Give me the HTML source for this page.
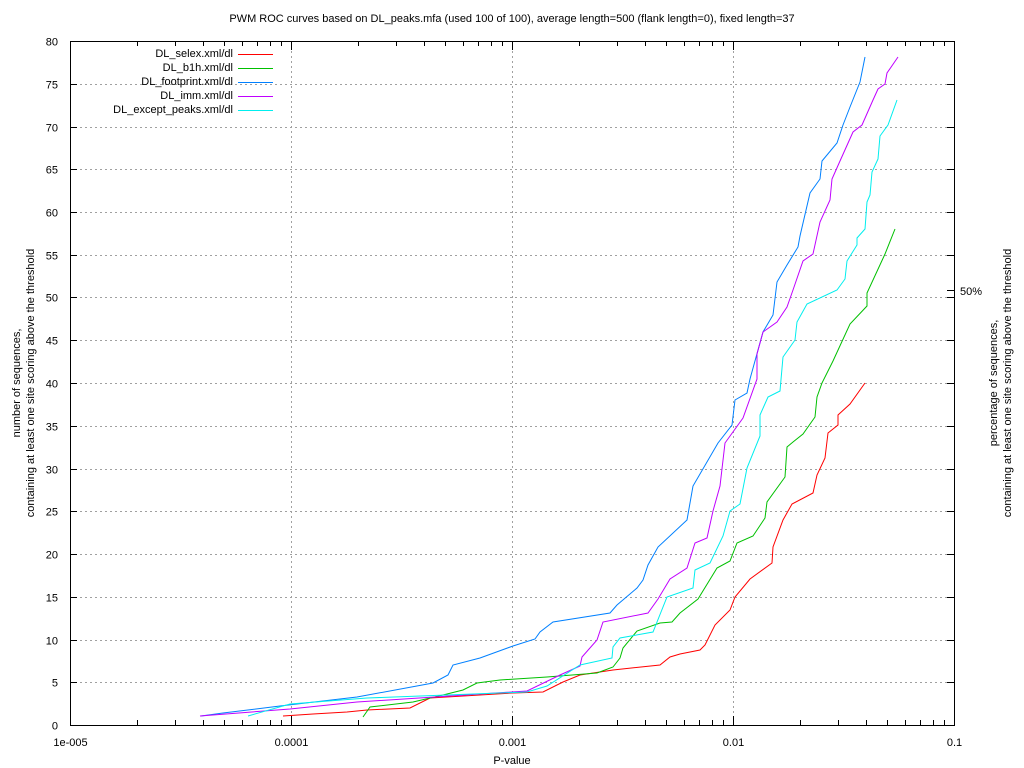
<!DOCTYPE html>
<html><head><meta charset="utf-8"><style>
html,body{margin:0;padding:0;background:#fff}
svg{display:block}
text{font-family:"Liberation Sans",sans-serif;font-size:11px;fill:#000}
</style></head><body>
<svg id="s" width="1024" height="768" viewBox="0 0 1024 768" xmlns="http://www.w3.org/2000/svg">
<g id="grid" stroke="#a0a0a0" stroke-width="1" stroke-dasharray="2,3" fill="none"></g>
<g id="ticks" stroke="#000" stroke-width="1" fill="none"></g>
<g id="labels"></g>
<rect x="70.5" y="41.5" width="884" height="684" fill="none" stroke="#000"/>
<text x="512" y="22" text-anchor="middle">PWM ROC curves based on DL_peaks.mfa (used 100 of 100), average length=500 (flank length=0), fixed length=37</text>
<text x="512" y="764" text-anchor="middle">P-value</text>
<text transform="translate(20,383) rotate(-90)" text-anchor="middle">number of sequences,</text>
<text transform="translate(34,383) rotate(-90)" text-anchor="middle">containing at least one site scoring above the threshold</text>
<text transform="translate(997,383) rotate(-90)" text-anchor="middle">percentage of sequences,</text>
<text transform="translate(1011,383) rotate(-90)" text-anchor="middle">containing at least one site scoring above the threshold</text>
<text x="960" y="295">50%</text>
<line x1="954" y1="290.5" x2="947" y2="290.5" stroke="#000"/>
<g font-size="11">
<text x="233" y="57" text-anchor="end">DL_selex.xml/dl</text>
<text x="233" y="71" text-anchor="end">DL_b1h.xml/dl</text>
<text x="233" y="85" text-anchor="end">DL_footprint.xml/dl</text>
<text x="233" y="99" text-anchor="end">DL_imm.xml/dl</text>
<text x="233" y="113" text-anchor="end">DL_except_peaks.xml/dl</text>
</g>
<line x1="238" y1="54.5" x2="273" y2="54.5" stroke="#ff0000"/>
<line x1="238" y1="68.5" x2="273" y2="68.5" stroke="#00c000"/>
<line x1="238" y1="82.5" x2="273" y2="82.5" stroke="#0080ff"/>
<line x1="238" y1="96.5" x2="273" y2="96.5" stroke="#c000ff"/>
<line x1="238" y1="110.5" x2="273" y2="110.5" stroke="#00eeee"/>
<g fill="none" stroke-width="1">
<polyline stroke="#ff0000" points="283,716 313,714 347,712 367,710 410,708 430,698 480,695 513,693 543,692 563,682 580,675 613,670 660,665 670,657 680,654 700,650 705,645 715,625 730,610 735,597 750,579 772,563 773,547 783,520 792,504 813,493 817,475 825,458 828,433 838,425 838,415 850,404 865,383"/>
<polyline stroke="#00c000" points="363,717 370,707 413,702 443,695 463,690 477,683 500,680 547,677 597,673 613,667 620,658 623,648 637,631 660,623 672,622 680,613 698,599 717,568 730,561 737,543 753,536 765,518 767,502 785,477 787,447 793,442 803,434 815,417 817,397 822,383 833,361 850,324 867,306 867,293 885,254 895,229"/>
<polyline stroke="#0080ff" points="201,716 223,713 280,706 357,697 433,683 448,675 453,665 480,658 513,646 535,639 540,632 553,622 610,613 617,605 637,588 643,580 648,565 658,547 687,520 693,486 718,443 732,425 735,400 747,393 750,379 763,332 773,315 777,282 787,265 798,247 800,236 810,193 820,179 822,161 837,143 843,125 850,107 860,82 865,57"/>
<polyline stroke="#c000ff" points="200,716 290,709 357,702 527,691 560,675 580,666 582,657 597,640 603,622 648,613 658,599 670,579 687,568 695,543 707,538 713,511 720,486 725,443 743,418 757,379 757,354 763,332 777,322 787,307 793,290 803,261 813,254 820,222 830,200 832,179 840,161 853,132 862,125 873,100 878,89 885,84 887,73 898,57"/>
<polyline stroke="#00eeee" points="248,716 290,704 367,698 527,692 547,686 580,665 612,658 613,647 620,638 653,632 667,597 693,588 695,570 710,563 723,536 730,511 740,504 747,468 760,436 760,415 768,397 780,391 783,357 795,340 797,322 807,304 837,290 845,279 847,261 857,245 857,238 865,229 867,202 870,195 872,172 878,159 880,136 888,125 897,100"/>
</g>
</svg>
<script>
(function(){
var ns="http://www.w3.org/2000/svg";
var g=document.getElementById('grid'),t=document.getElementById('ticks'),L=document.getElementById('labels');
function line(p,x1,y1,x2,y2){var l=document.createElementNS(ns,'line');l.setAttribute('x1',x1);l.setAttribute('y1',y1);l.setAttribute('x2',x2);l.setAttribute('y2',y2);p.appendChild(l);}
function txt(x,y,s,a){var e=document.createElementNS(ns,'text');e.setAttribute('x',x);e.setAttribute('y',y);e.setAttribute('text-anchor',a);e.textContent=s;L.appendChild(e);}
for(var v=0;v<=80;v+=5){var y=725-v*8.55+0.5;y=Math.round(y-0.5)+0.5;
 if(v>0&&v<80){ if(v>=65? true:true){line(g,70,y,954,y);} }
 line(t,70,y,77,y);line(t,954,y,947,y);txt(58,y+4,String(v),'end');}
var labs=['1e-005','0.0001','0.001','0.01','0.1'];
for(var d=0;d<5;d++){var x=Math.round(70+d*221)+0.5;
 if(d>0&&d<4)line(g,x,41,x,725);
 line(t,x,725,x,716);line(t,x,41,x,50);txt(x,746,labs[d],'middle');
 if(d<4)for(var k=2;k<=9;k++){var xx=Math.round(70+d*221+Math.log10(k)*221)+0.5;line(t,xx,725,xx,720);line(t,xx,41,xx,46);}}
})();
</script>
</body></html>
